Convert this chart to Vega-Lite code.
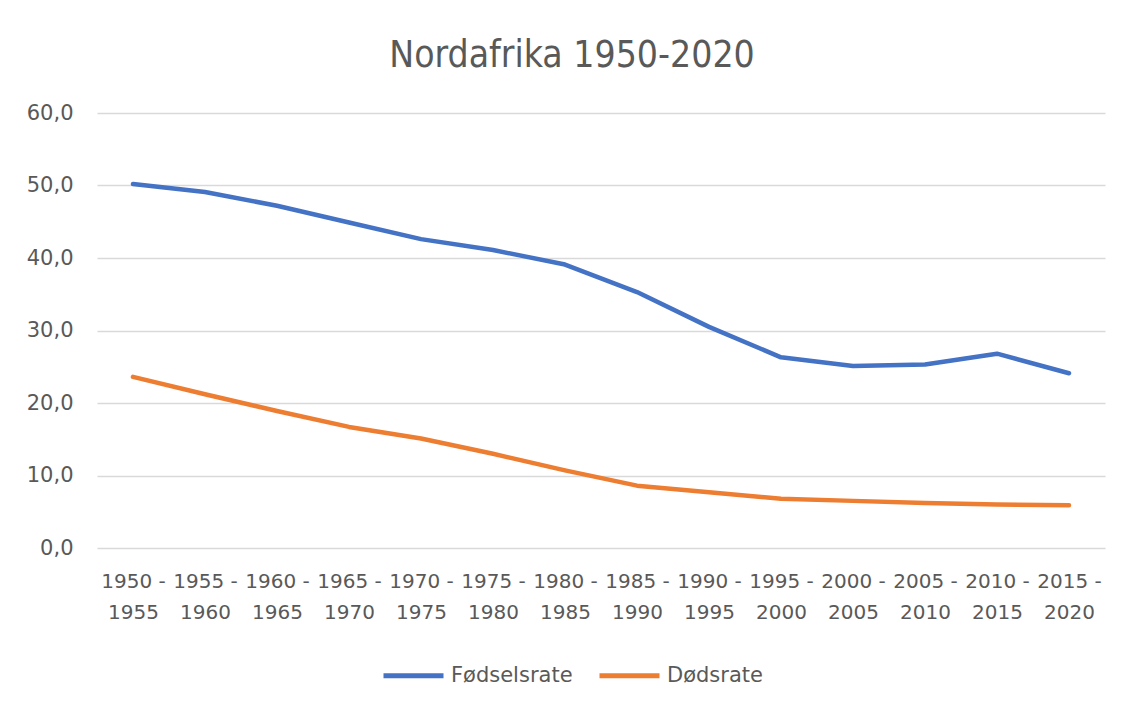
{
  "$schema": "https://vega.github.io/schema/vega-lite/v6.json",
  "width": 1008,
  "height": 435,
  "autosize": {"type": "none"},
  "padding": {"left": 97, "top": 113, "right": 23, "bottom": 162},
  "background": "white",
  "title": {
    "text": "Nordafrika 1950-2020",
    "fontSize": 37,
    "font": "DejaVu Sans Condensed, DejaVu Sans, sans-serif",
    "fontWeight": "normal",
    "color": "#595959",
    "anchor": "middle",
    "dx": -29,
    "offset": 27
  },
  "config": {
    "view": {"stroke": null},
    "font": "DejaVu Sans, sans-serif"
  },
  "data": {
    "values": [
      {"periode": "1950 - 1955", "serie": "Fødselsrate", "rate": 50.2},
      {"periode": "1955 - 1960", "serie": "Fødselsrate", "rate": 49.1},
      {"periode": "1960 - 1965", "serie": "Fødselsrate", "rate": 47.2},
      {"periode": "1965 - 1970", "serie": "Fødselsrate", "rate": 44.9},
      {"periode": "1970 - 1975", "serie": "Fødselsrate", "rate": 42.6},
      {"periode": "1975 - 1980", "serie": "Fødselsrate", "rate": 41.1},
      {"periode": "1980 - 1985", "serie": "Fødselsrate", "rate": 39.1},
      {"periode": "1985 - 1990", "serie": "Fødselsrate", "rate": 35.3},
      {"periode": "1990 - 1995", "serie": "Fødselsrate", "rate": 30.5},
      {"periode": "1995 - 2000", "serie": "Fødselsrate", "rate": 26.3},
      {"periode": "2000 - 2005", "serie": "Fødselsrate", "rate": 25.1},
      {"periode": "2005 - 2010", "serie": "Fødselsrate", "rate": 25.3},
      {"periode": "2010 - 2015", "serie": "Fødselsrate", "rate": 26.8},
      {"periode": "2015 - 2020", "serie": "Fødselsrate", "rate": 24.1},
      {"periode": "1950 - 1955", "serie": "Dødsrate", "rate": 23.6},
      {"periode": "1955 - 1960", "serie": "Dødsrate", "rate": 21.2},
      {"periode": "1960 - 1965", "serie": "Dødsrate", "rate": 18.9},
      {"periode": "1965 - 1970", "serie": "Dødsrate", "rate": 16.7},
      {"periode": "1970 - 1975", "serie": "Dødsrate", "rate": 15.1},
      {"periode": "1975 - 1980", "serie": "Dødsrate", "rate": 13.0},
      {"periode": "1980 - 1985", "serie": "Dødsrate", "rate": 10.7},
      {"periode": "1985 - 1990", "serie": "Dødsrate", "rate": 8.6},
      {"periode": "1990 - 1995", "serie": "Dødsrate", "rate": 7.7},
      {"periode": "1995 - 2000", "serie": "Dødsrate", "rate": 6.8},
      {"periode": "2000 - 2005", "serie": "Dødsrate", "rate": 6.5},
      {"periode": "2005 - 2010", "serie": "Dødsrate", "rate": 6.2},
      {"periode": "2010 - 2015", "serie": "Dødsrate", "rate": 6.0},
      {"periode": "2015 - 2020", "serie": "Dødsrate", "rate": 5.9}
    ]
  },
  "mark": {"type": "line", "strokeWidth": 4.5, "interpolate": "linear", "strokeCap": "round", "strokeJoin": "round"},
  "encoding": {
    "x": {
      "field": "periode",
      "type": "ordinal",
      "sort": null,
      "scale": {"type": "point", "padding": 0.5},
      "axis": {
        "title": null,
        "domain": false,
        "ticks": false,
        "labelAngle": 0,
        "labelFontSize": 20,
        "labelColor": "#595959",
        "labelPadding": 23,
        "labelLineHeight": 31,
        "labelExpr": "[slice(datum.label, 0, 6), slice(datum.label, 7)]"
      }
    },
    "y": {
      "field": "rate",
      "type": "quantitative",
      "scale": {"domain": [0, 60]},
      "axis": {
        "title": null,
        "values": [0, 10, 20, 30, 40, 50, 60],
        "domain": false,
        "ticks": false,
        "gridColor": "#d9d9d9",
        "gridWidth": 1.5,
        "labelFontSize": 21,
        "labelColor": "#595959",
        "labelPadding": 24,
        "labelExpr": "replace(format(datum.value, '.1f'), '.', ',')"
      }
    },
    "color": {
      "field": "serie",
      "type": "nominal",
      "sort": ["Fødselsrate", "Dødsrate"],
      "scale": {"domain": ["Fødselsrate", "Dødsrate"], "range": ["#4472C4", "#ED7D31"]},
      "legend": {
        "title": null,
        "orient": "none",
        "legendX": 284,
        "legendY": 530,
        "direction": "horizontal",
        "symbolType": "stroke",
        "symbolSize": 3600,
        "symbolStrokeWidth": 5,
        "labelFontSize": 21,
        "labelColor": "#595959",
        "labelOffset": 5,
        "columnPadding": 16
      }
    }
  }
}
